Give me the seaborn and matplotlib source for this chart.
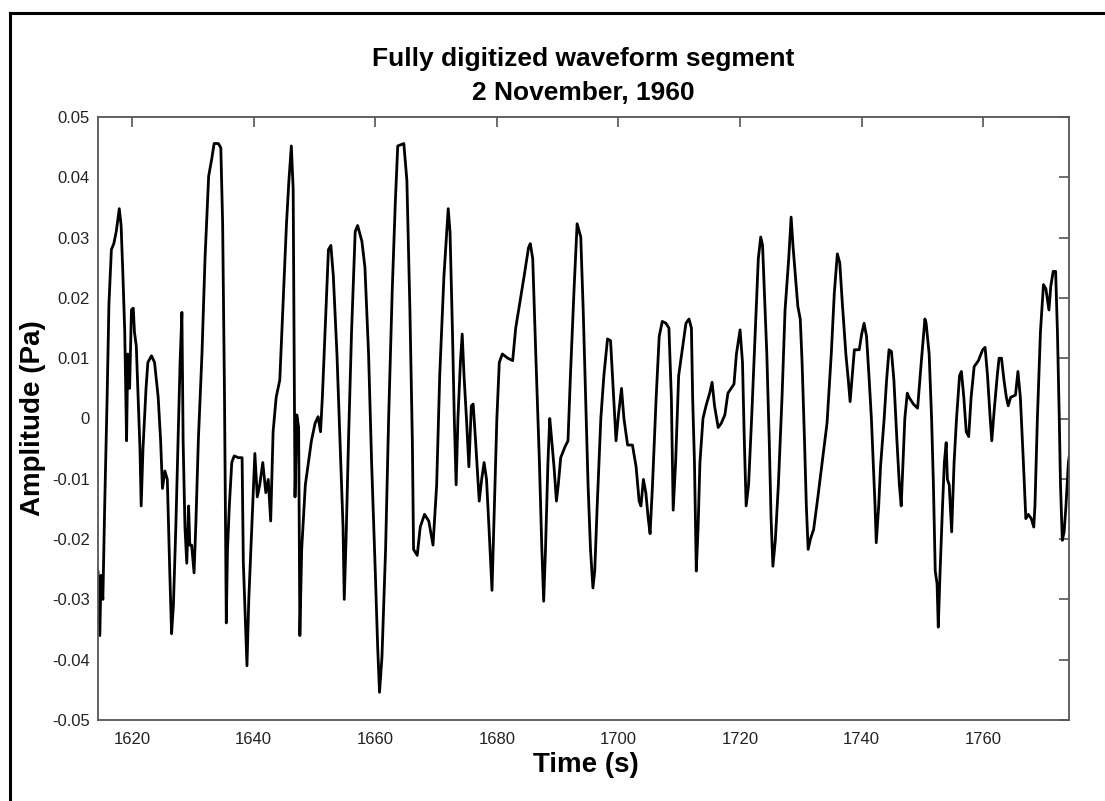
import numpy as np
import pandas as pd
import matplotlib
matplotlib.use("Agg")
import matplotlib.pyplot as plt
from matplotlib import font_manager
from matplotlib.lines import Line2D
import seaborn as sns

# ---------------- data ----------------
time_s = [
    1614.4, 1614.7, 1614.9, 1615.2, 1615.5, 1615.9, 1616.2, 1616.6, 1617.0, 1617.4,
    1617.9, 1618.2, 1618.5, 1618.8, 1619.1, 1619.3, 1619.6, 1619.9, 1620.2, 1620.4,
    1620.7, 1621.0, 1621.3, 1621.5, 1621.8, 1622.3, 1622.6, 1623.2, 1623.7, 1624.3,
    1624.7, 1625.0, 1625.4, 1625.8, 1626.2, 1626.5, 1626.8, 1627.2, 1627.6, 1627.9,
    1628.2, 1628.4, 1628.7, 1629.0, 1629.3, 1629.5, 1629.8, 1630.2, 1630.5, 1630.9,
    1631.5, 1632.0, 1632.6, 1633.1, 1633.5, 1634.2, 1634.6, 1634.9, 1635.2, 1635.5,
    1635.7, 1636.0, 1636.4, 1636.8, 1637.5, 1638.1, 1638.3, 1638.6, 1638.9, 1639.2,
    1639.7, 1640.2, 1640.6, 1641.0, 1641.5, 1642.0, 1642.4, 1642.8, 1643.2, 1643.7,
    1644.3, 1644.8, 1645.4, 1645.8, 1646.2, 1646.5, 1646.8, 1647.1, 1647.4, 1647.6,
    1647.9, 1648.5, 1649.0, 1649.5, 1650.1, 1650.6, 1651.0, 1651.3, 1651.9, 1652.3,
    1652.7, 1653.1, 1653.7, 1654.2, 1654.7, 1654.9, 1655.2, 1655.6, 1656.1, 1656.7,
    1657.1, 1657.8, 1658.3, 1658.9, 1659.4, 1660.0, 1660.4, 1660.7, 1661.1, 1661.7,
    1662.2, 1662.8, 1663.3, 1663.7, 1664.7, 1665.2, 1665.7, 1666.1, 1666.3, 1666.9,
    1667.4, 1668.1, 1668.8, 1669.5, 1670.1, 1670.6, 1671.3, 1672.0, 1672.3, 1672.7,
    1673.0, 1673.3, 1673.6, 1674.0, 1674.3, 1674.6, 1675.0, 1675.4, 1675.8, 1676.1,
    1676.5, 1677.1, 1677.5, 1677.9, 1678.3, 1678.7, 1679.2, 1679.6, 1680.0, 1680.4,
    1680.9, 1681.8, 1682.6, 1683.1, 1683.9, 1684.5, 1685.2, 1685.5, 1685.9, 1686.4,
    1687.0, 1687.4, 1687.7, 1688.0, 1688.4, 1688.7, 1688.9, 1689.4, 1689.8, 1690.1,
    1690.5, 1691.2, 1691.7, 1692.1, 1692.7, 1693.2, 1693.8, 1694.2, 1694.6, 1695.0,
    1695.4, 1695.8, 1696.1, 1696.5, 1697.1, 1697.6, 1698.2, 1698.7, 1699.2, 1699.6,
    1700.0, 1700.5, 1700.9, 1701.5, 1702.3, 1702.9, 1703.4, 1703.7, 1704.1, 1704.5,
    1704.9, 1705.2, 1705.6, 1706.2, 1706.7, 1707.2, 1707.8, 1708.3, 1708.7, 1709.0,
    1709.4, 1709.9, 1710.6, 1711.1, 1711.6, 1712.0, 1712.2, 1712.5, 1712.8, 1713.1,
    1713.4, 1713.9, 1714.4, 1715.0, 1715.4, 1715.8, 1716.4, 1716.9, 1717.5, 1718.0,
    1719.0, 1719.4, 1720.0, 1720.4, 1720.7, 1721.0, 1721.4, 1721.9, 1722.5, 1723.0,
    1723.4, 1723.7, 1724.0, 1724.4, 1724.8, 1725.1, 1725.4, 1725.8, 1726.3, 1726.9,
    1727.4, 1728.0, 1728.4, 1728.7, 1729.1, 1729.5, 1729.9, 1730.2, 1730.6, 1730.9,
    1731.2, 1731.6, 1732.1, 1732.8, 1733.5, 1734.3, 1735.0, 1735.5, 1736.0, 1736.4,
    1736.8, 1737.4, 1737.8, 1738.1, 1738.5, 1738.8, 1739.6, 1740.0, 1740.4, 1740.8,
    1741.2, 1741.6, 1741.9, 1742.2, 1742.4, 1742.8, 1743.1, 1743.7, 1744.1, 1744.5,
    1744.9, 1745.3, 1745.8, 1746.2, 1746.5, 1746.8, 1747.1, 1747.5, 1747.8, 1748.5,
    1749.2, 1749.8, 1750.4, 1750.6, 1751.1, 1751.5, 1751.8, 1752.1, 1752.4, 1752.6,
    1752.9, 1753.3, 1753.6, 1753.9, 1754.1, 1754.4, 1754.8, 1755.2, 1755.6, 1756.1,
    1756.4, 1756.8, 1757.2, 1757.6, 1758.0, 1758.5, 1759.2, 1759.9, 1760.3, 1760.7,
    1761.1, 1761.4, 1761.8, 1762.3, 1762.6, 1763.0, 1763.4, 1763.8, 1764.1, 1764.5,
    1765.3, 1765.7, 1766.1, 1766.6, 1767.0, 1767.4, 1767.9, 1768.3, 1768.5, 1768.9,
    1769.4, 1769.9, 1770.3, 1770.8, 1771.1, 1771.5, 1771.9, 1772.2, 1772.5, 1772.7,
    1773.0, 1773.3, 1773.6, 1774.0, 1774.4,
]

amplitude_pa = [
    -0.0253, -0.0360, -0.0260, -0.0300, -0.0145, 0.0035, 0.0190, 0.0280, 0.0290, 0.0310,
    0.0348, 0.0320, 0.0237, 0.0143, -0.0037, 0.0107, 0.0050, 0.0180, 0.0183, 0.0143,
    0.0120, 0.0035, -0.0050, -0.0145, -0.0050, 0.0050, 0.0093, 0.0104, 0.0093, 0.0035,
    -0.0037, -0.0116, -0.0087, -0.0101, -0.0253, -0.0357, -0.0310, -0.0180, -0.0022, 0.0093,
    0.0176, -0.0037, -0.0180, -0.0240, -0.0145, -0.0210, -0.0210, -0.0256, -0.0173, -0.0037,
    0.0107, 0.0265, 0.0402, 0.0430, 0.0456, 0.0456, 0.0449, 0.0323, 0.0042, -0.0339,
    -0.0217, -0.0145, -0.0073, -0.0062, -0.0065, -0.0065, -0.0238, -0.0324, -0.0410, -0.0300,
    -0.0180, -0.0058, -0.0130, -0.0110, -0.0073, -0.0123, -0.0101, -0.0170, -0.0022, 0.0035,
    0.0064, 0.0180, 0.0323, 0.0395, 0.0452, 0.0380, -0.0130, 0.0006, -0.0015, -0.0360,
    -0.0217, -0.0110, -0.0073, -0.0037, -0.0008, 0.0003, -0.0022, 0.0035, 0.0180, 0.0280,
    0.0287, 0.0237, 0.0107, -0.0037, -0.0180, -0.0300, -0.0200, -0.0037, 0.0143, 0.0310,
    0.0320, 0.0294, 0.0251, 0.0107, -0.0073, -0.0253, -0.0380, -0.0454, -0.0396, -0.0217,
    0.0000, 0.0215, 0.0359, 0.0452, 0.0456, 0.0395, 0.0180, -0.0037, -0.0217, -0.0227,
    -0.0180, -0.0159, -0.0170, -0.0210, -0.0110, 0.0071, 0.0237, 0.0348, 0.0309, 0.0143,
    0.0000, -0.0110, 0.0000, 0.0093, 0.0140, 0.0071, 0.0000, -0.0080, 0.0021, 0.0024,
    -0.0037, -0.0137, -0.0101, -0.0073, -0.0101, -0.0180, -0.0285, -0.0145, 0.0000, 0.0093,
    0.0107, 0.0100, 0.0096, 0.0150, 0.0200, 0.0237, 0.0283, 0.0290, 0.0265, 0.0107,
    -0.0073, -0.0217, -0.0303, -0.0217, -0.0073, 0.0000, -0.0022, -0.0080, -0.0137, -0.0110,
    -0.0065, -0.0047, -0.0037, 0.0071, 0.0215, 0.0323, 0.0301, 0.0180, 0.0035, -0.0110,
    -0.0217, -0.0281, -0.0253, -0.0145, 0.0000, 0.0071, 0.0132, 0.0129, 0.0035, -0.0037,
    0.0006, 0.0050, 0.0000, -0.0044, -0.0044, -0.0080, -0.0137, -0.0145, -0.0101, -0.0123,
    -0.0166, -0.0191, -0.0110, 0.0035, 0.0136, 0.0161, 0.0158, 0.0150, 0.0035, -0.0152,
    -0.0073, 0.0071, 0.0122, 0.0158, 0.0165, 0.0150, 0.0035, -0.0073, -0.0253, -0.0180,
    -0.0073, 0.0000, 0.0021, 0.0042, 0.0060, 0.0021, -0.0015, -0.0008, 0.0006, 0.0042,
    0.0057, 0.0107, 0.0147, 0.0093, -0.0037, -0.0145, -0.0110, 0.0000, 0.0143, 0.0265,
    0.0301, 0.0287, 0.0208, 0.0107, -0.0037, -0.0166, -0.0245, -0.0202, -0.0110, 0.0035,
    0.0180, 0.0265, 0.0334, 0.0287, 0.0237, 0.0186, 0.0165, 0.0093, -0.0037, -0.0145,
    -0.0217, -0.0199, -0.0184, -0.0130, -0.0073, -0.0008, 0.0107, 0.0208, 0.0273, 0.0258,
    0.0194, 0.0107, 0.0064, 0.0028, 0.0078, 0.0114, 0.0114, 0.0140, 0.0158, 0.0136,
    0.0071, 0.0000, -0.0073, -0.0145, -0.0206, -0.0145, -0.0080, 0.0000, 0.0064, 0.0114,
    0.0111, 0.0064, -0.0037, -0.0110, -0.0145, -0.0073, 0.0000, 0.0042, 0.0035, 0.0024,
    0.0017, 0.0093, 0.0165, 0.0158, 0.0107, 0.0000, -0.0110, -0.0253, -0.0274, -0.0346,
    -0.0253, -0.0145, -0.0073, -0.0040, -0.0101, -0.0110, -0.0188, -0.0073, 0.0000, 0.0071,
    0.0078, 0.0035, -0.0022, -0.0030, 0.0035, 0.0086, 0.0096, 0.0114, 0.0118, 0.0071,
    0.0006, -0.0037, 0.0014, 0.0071, 0.0100, 0.0100, 0.0064, 0.0035, 0.0021, 0.0035,
    0.0039, 0.0078, 0.0035, -0.0073, -0.0166, -0.0159, -0.0166, -0.0180, -0.0145, 0.0000,
    0.0143, 0.0222, 0.0215, 0.0180, 0.0219, 0.0244, 0.0244, 0.0143, 0.0000, -0.0110,
    -0.0202, -0.0188, -0.0145, -0.0073, -0.0044,
]

x_ticks = [1620, 1640, 1660, 1680, 1700, 1720, 1740, 1760]
y_ticks = [0.05, 0.04, 0.03, 0.02, 0.01, 0, -0.01, -0.02, -0.03, -0.04, -0.05]
y_tick_labels = ["0.05", "0.04", "0.03", "0.02", "0.01", "0",
                 "-0.01", "-0.02", "-0.03", "-0.04", "-0.05"]
x_limits = (1614.4, 1774.1)
y_limits = (-0.05, 0.05)

title_line1 = "Fully digitized waveform segment"
title_line2 = "2 November, 1960"
x_label = "Time (s)"
y_label = "Amplitude (Pa)"

# ---------------- style ----------------
sns.set_theme(style="white")
plt.rcParams['font.family'] = ['Liberation Sans', 'DejaVu Sans']

available = {f.name for f in font_manager.fontManager.ttflist}
tick_family = ['Liberation Sans Narrow', 'Liberation Sans'] if 'Liberation Sans Narrow' in available else ['Liberation Sans']
tick_size = 14 if 'Liberation Sans Narrow' in available else 12

W, H = 1105, 801
fig = plt.figure(figsize=(W / 100, H / 100), dpi=100, facecolor='white')

ax_left, ax_right, ax_top, ax_bottom = 98, 1069, 117, 720
ax = fig.add_axes([ax_left / W, 1 - ax_bottom / H,
                   (ax_right - ax_left) / W, (ax_bottom - ax_top) / H])
ax.set_facecolor('white')

df = pd.DataFrame({"time": time_s, "amp": amplitude_pa})
sns.lineplot(data=df, x="time", y="amp", color="black", linewidth=2.0,
             estimator=None, sort=False, ax=ax)

ax.set_xlim(*x_limits)
ax.set_ylim(*y_limits)
ax.set_xticks(x_ticks)
ax.set_xticklabels([str(t) for t in x_ticks])
ax.set_yticks(y_ticks)
ax.set_yticklabels(y_tick_labels)
ax.set_xlabel("")
ax.set_ylabel("")

for sp in ax.spines.values():
    sp.set_visible(True)
    sp.set_color('#555555')
    sp.set_linewidth(1.3)

ax.tick_params(axis='both', which='major', direction='in', length=7, width=1.1,
               color='#444444', top=True, right=True, labelcolor='#222222')
ax.tick_params(axis='x', pad=9)
ax.tick_params(axis='y', pad=6)
for lab in ax.get_xticklabels() + ax.get_yticklabels():
    lab.set_family(tick_family)
    lab.set_fontsize(tick_size)

# titles and axis labels
cx = (ax_left + ax_right) / 2 / W
fig.text(cx, 1 - 66 / H, title_line1, ha='center', va='baseline',
         fontsize=19, fontweight='bold', color='black')
fig.text(cx, 1 - 100 / H, title_line2, ha='center', va='baseline',
         fontsize=19, fontweight='bold', color='black')
fig.text(586 / W, 1 - 772 / H, x_label, ha='center', va='baseline',
         fontsize=20, fontweight='bold', color='black')
fig.text(33 / W, 1 - 418 / H, y_label, ha='center', va='center', rotation=90,
         fontsize=20, fontweight='bold', color='black')

# outer frame (left and top edges of the screenshot border)
fig.add_artist(Line2D([10 / W, 10 / W], [0, 1 - 13 / H], transform=fig.transFigure,
                      color='black', linewidth=2.2, solid_capstyle='projecting'))
fig.add_artist(Line2D([10 / W, 1], [1 - 13 / H, 1 - 13 / H], transform=fig.transFigure,
                      color='black', linewidth=2.2, solid_capstyle='projecting'))

fig.savefig("out.png", dpi=100, facecolor='white')
